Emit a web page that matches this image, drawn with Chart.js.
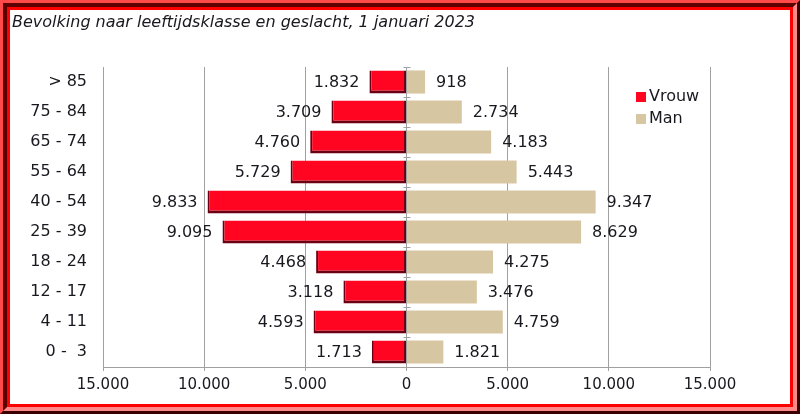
<!DOCTYPE html>
<html>
<head>
<meta charset="utf-8">
<script src="https://cdn.jsdelivr.net/npm/chart.js@4.4.1/dist/chart.umd.min.js"></script>
<style>
html,body{margin:0;padding:0;background:#fff;}
#f1{position:absolute;left:0;top:0;width:800px;height:414px;box-sizing:border-box;border:3px solid;border-color:#ff4a4a #3a0000 #3a0000 #ff4a4a;}
#f2{width:100%;height:100%;box-sizing:border-box;border:4px solid;border-color:#5c0000 #ff8a8a #ff8a8a #5c0000;}
#f3{width:100%;height:100%;box-sizing:border-box;border:3px solid #ff0000;background:#fff;position:relative;}
#wrap{position:absolute;left:0;top:0;width:780px;height:394px;}
</style>
</head>
<body>
<div id="f1"><div id="f2"><div id="f3"><div id="wrap"><canvas id="c"></canvas></div></div></div></div>
<script>
const titleText = 'Bevolking naar leeftijdsklasse en geslacht, 1 januari 2023';
const categories = ['> 85','75 - 84','65 - 74','55 - 64','40 - 54','25 - 39','18 - 24','12 - 17','4 - 11','0 -  3'];
const vrouw = [1832,3709,4760,5729,9833,9095,4468,3118,4593,1713];
const man = [918,2734,4183,5443,9347,8629,4275,3476,4759,1821];
const xTicks = [-15000,-10000,-5000,0,5000,10000,15000];

const FONT = 'Verdana, "DejaVu Sans", sans-serif';
const TXT = '#18181f';
const RED = '#ff0522';
const TAN = '#d7c6a2';

function fmt(n){
  const s = String(Math.abs(Math.round(n)));
  return s.replace(/\B(?=(\d{3})+(?!\d))/g, '.');
}

const labelPlugin = {
  id:'vals',
  afterDatasetsDraw(chart){
    const ctx = chart.ctx;
    ctx.save();
    ctx.font = '16px ' + FONT;
    ctx.fillStyle = TXT;
    ctx.textBaseline = 'middle';
    chart.data.datasets.forEach((ds, di) => {
      const meta = chart.getDatasetMeta(di);
      meta.data.forEach((bar, i) => {
        const raw = di === 0 ? vrouw[i] : man[i];
        if (di === 0) { ctx.textAlign = 'right'; ctx.fillText(fmt(raw), bar.x - 10, bar.y + 1); }
        else { ctx.textAlign = 'left'; ctx.fillText(fmt(raw), bar.x + 11, bar.y + 1); }
      });
    });
    ctx.restore();
  }
};

const centerTicks = {
  id:'ctick',
  beforeDatasetsDraw(chart){
    const ctx = chart.ctx, xs = chart.scales.x, ys = chart.scales.y;
    const x0 = xs.getPixelForValue(0);
    ctx.save();
    ctx.strokeStyle = '#a0a0a0';
    ctx.lineWidth = 1;
    for (let i = 0; i <= categories.length; i++) {
      const y = Math.round(ys.getPixelForValue(i - 0.5)) + 0.5;
      ctx.beginPath(); ctx.moveTo(x0 - 3, y); ctx.lineTo(x0 + 4, y); ctx.stroke();
    }
    ctx.restore();
  }
};

const legendPlugin = {
  id:'leg',
  afterDraw(chart){
    const ctx = chart.ctx;
    ctx.save();
    ctx.font = '16px ' + FONT;
    ctx.textBaseline = 'middle';
    ctx.textAlign = 'left';
    const items = chart.data.datasets;
    items.forEach((ds, i) => {
      const y = 87 + i * 22;
      ctx.fillStyle = ds.backgroundColor;
      ctx.fillRect(626, y - 5, 10, 10);
      ctx.fillStyle = TXT;
      ctx.fillText(ds.label, 639, y);
    });
    ctx.restore();
  }
};

new Chart(document.getElementById('c'), {
  type:'bar',
  data:{
    labels: categories,
    datasets:[
      {label:'Vrouw', data: vrouw.map(v => -v), backgroundColor: RED,
       borderColor:'#6a0012', borderWidth:{top:0,left:2,bottom:3,right:2}, borderSkipped:false},
      {label:'Man', data: man, backgroundColor: TAN, borderWidth:0}
    ]
  },
  options:{
    indexAxis:'y',
    responsive:true,
    maintainAspectRatio:false,
    animation:false,
    layout:{padding:{left:2,right:80,top:0,bottom:0}},
    datasets:{bar:{categoryPercentage:1, barPercentage:0.77}},
    plugins:{
      legend:{display:false},
      tooltip:{enabled:false},
      title:{display:true, text:titleText, align:'start', color:TXT,
        font:{family:FONT, size:16, style:'italic', weight:'normal', lineHeight:1.2},
        padding:{top:3,bottom:34.8}}
    },
    scales:{
      x:{
        stacked:true, min:-15000, max:15000,
        afterBuildTicks(s){ s.ticks = xTicks.map(v => ({value:v})); },
        afterFit(s){ s.height = 37; },
        ticks:{color:TXT, font:{family:FONT,size:15}, padding:5, maxRotation:0,
          callback:(v) => fmt(v)},
        grid:{color:'#a0a0a0', lineWidth:1, drawTicks:true, tickLength:4, tickColor:'#a0a0a0'},
        border:{display:true, color:'#a0a0a0'}
      },
      y:{
        stacked:true,
        afterFit(s){ s.width = 91; },
        ticks:{color:TXT, font:{family:FONT,size:16}, padding:16},
        grid:{display:false, drawTicks:false},
        border:{display:false}
      }
    }
  },
  plugins:[centerTicks, labelPlugin, legendPlugin]
});
</script>
</body>
</html>
